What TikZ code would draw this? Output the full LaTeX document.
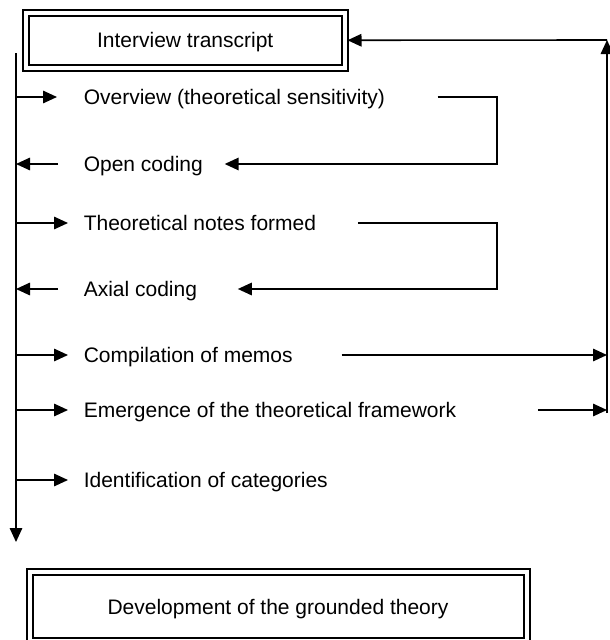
\documentclass[tikz,border=0pt]{standalone}
\usepackage{fontspec}
\setmainfont{Liberation Sans}
\usepackage{tikz}
\usetikzlibrary{arrows.meta, calc}

\begin{document}
\begin{tikzpicture}[x=1pt, y=-1pt, line width=1.6pt,
    font=\fontsize{21}{25}\selectfont,
    arr/.style={-{Triangle[length=14pt,width=12.5pt]}},
    lbl/.style={anchor=west, inner sep=0pt, text height=15pt, text depth=0pt},
    dbox/.style={draw, double, double distance=4pt, line width=2pt,
      inner sep=0pt, outer sep=3pt, text height=15pt, text depth=0pt}]
  \useasboundingbox (0,0) rectangle (610,640);
  % double-lined boxes
  \node[dbox, minimum width=318.5pt, minimum height=55.5pt] (transcript) at (185.25,40.25) {Interview transcript};
  \node[dbox, minimum width=497pt, minimum height=69pt] (theory) at (278,606.5) {Development of the grounded theory};
  % steps
  \node[lbl] (ov) at (83,97) {Overview (theoretical sensitivity)};
  \node[lbl] (oc) at (83,164) {Open coding};
  \node[lbl] (tn) at (83,223) {Theoretical notes formed};
  \node[lbl] (ax) at (83,289) {Axial coding};
  \node[lbl] (cm) at (83,355) {Compilation of memos};
  \node[lbl] (em) at (83,410) {Emergence of the theoretical framework};
  \node[lbl] (id) at (83,480) {Identification of categories};
  \coordinate (ltop) at (16,53);
  \coordinate (lbot) at (16,542);
  \coordinate (rtop) at (607,40);
  \coordinate (rbot) at (607,413);
  \coordinate (loop) at (497,0);
  % spines
  \draw[arr] (ltop) -- (lbot);
  \draw[arr] (rbot) -- (rtop);
  \draw[arr] (rtop) -- (transcript.east);
  % left side
  \draw[arr] (ov -| ltop) -- ([xshift=-26pt]ov.west);
  \draw[arr] ([xshift=-25pt]oc.west) -- (oc -| ltop);
  \draw[arr] ([xshift=-25pt]ax.west) -- (ax -| ltop);
  \foreach \n in {tn,cm,em,id}
    \draw[arr] (\n -| ltop) -- ([xshift=-15pt]\n.west);
  % right side
  \draw[arr] ([xshift=52pt]ov.east) -| (loop |- oc) -- ([xshift=21pt]oc.east);
  \draw[arr] ([xshift=41pt]tn.east) -| (loop |- ax) -- ([xshift=40pt]ax.east);
  \draw[arr] ([xshift=48pt]cm.east) -- (cm -| rtop);
  \draw[arr] ([xshift=81pt]em.east) -- (em -| rtop);
\end{tikzpicture}
\end{document}
